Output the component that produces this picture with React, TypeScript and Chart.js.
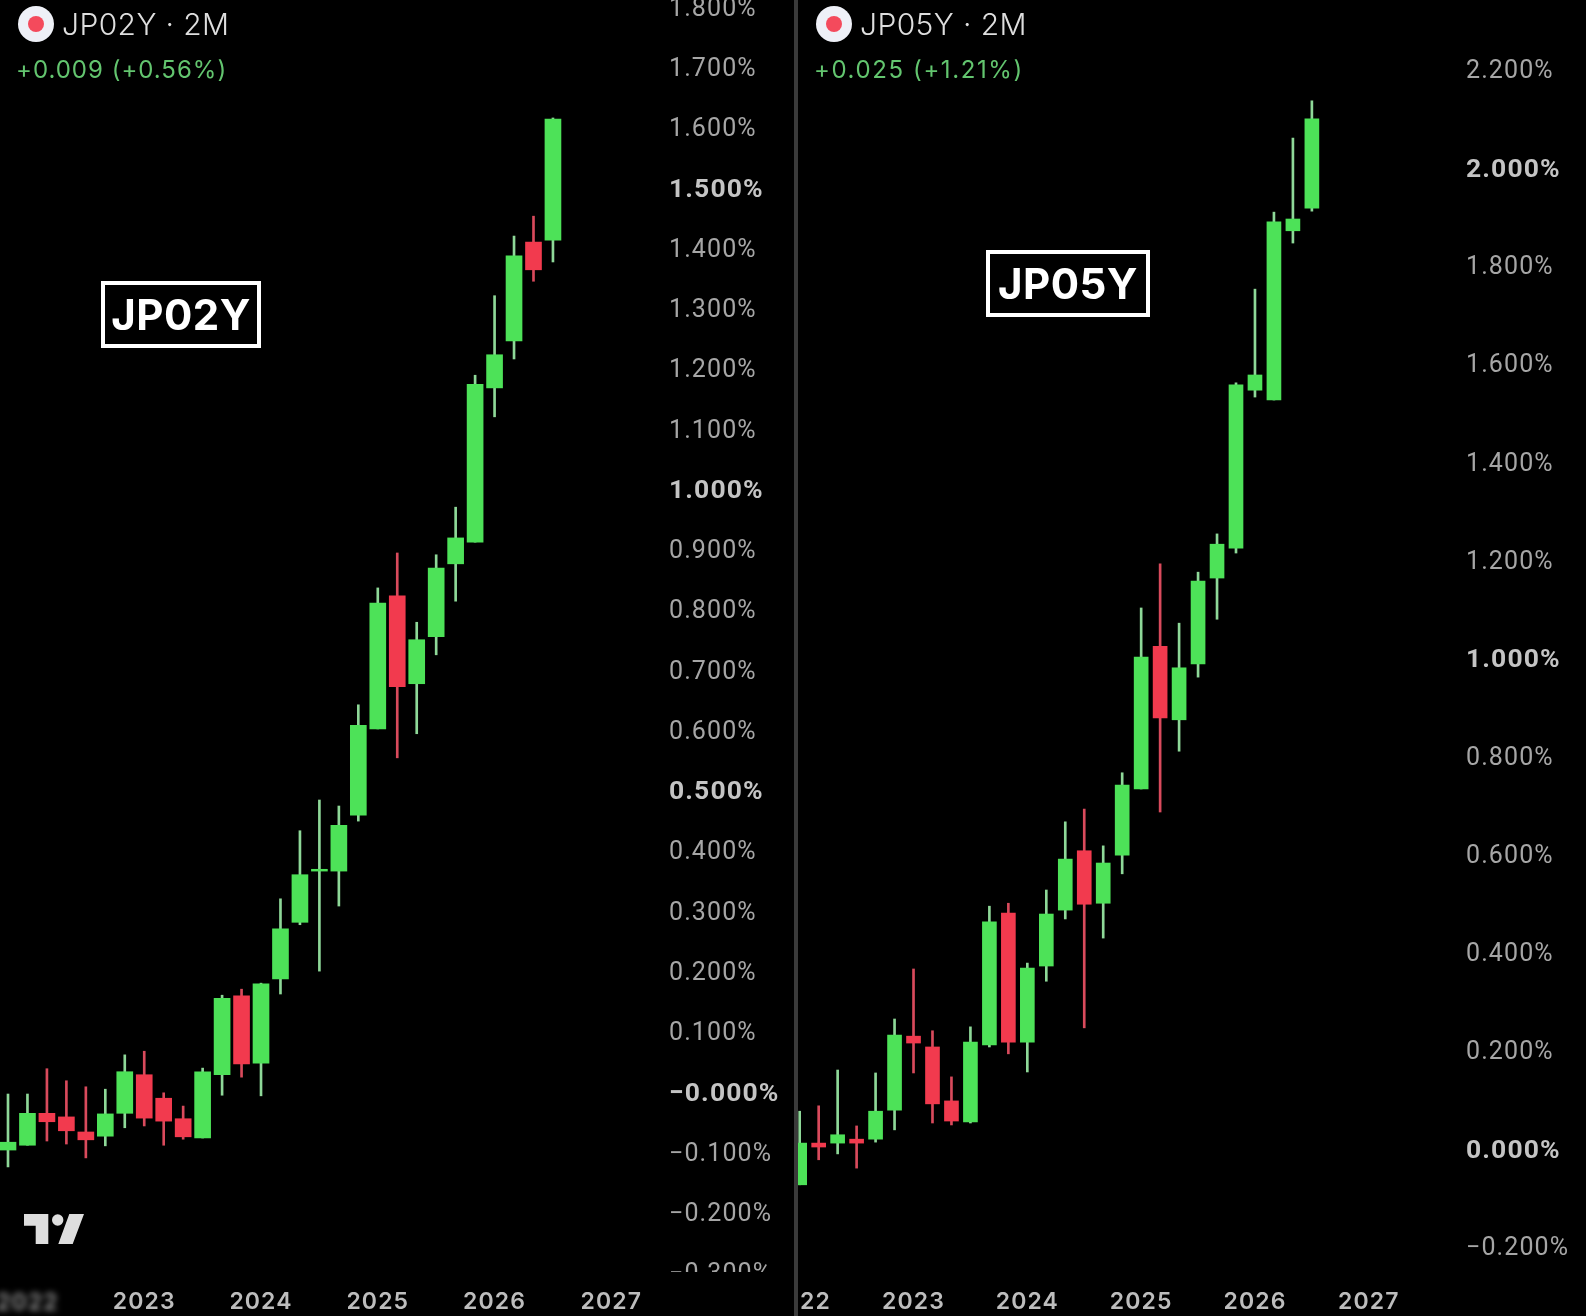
import React, { useEffect, useRef } from "react";
import { Chart, registerables } from "chart.js";

Chart.register(...registerables);

// JP02Y, 2-month bars, first bar Nov 2021
const leftOpen = [-0.098, -0.09, -0.037, -0.043, -0.068, -0.075, -0.037, 0.027, -0.012, -0.046, -0.078, 0.027, 0.158, 0.046, 0.186, 0.28, 0.365, 0.365, 0.458, 0.601, 0.822, 0.676, 0.754, 0.875, 0.911, 1.167, 1.245, 1.409, 1.412];
const leftHigh = [-0.005, -0.005, 0.037, 0.017, 0.007, 0.003, 0.06, 0.066, -0.003, -0.025, 0.038, 0.159, 0.169, 0.179, 0.319, 0.432, 0.483, 0.473, 0.641, 0.835, 0.893, 0.778, 0.89, 0.969, 1.188, 1.32, 1.419, 1.452, 1.615];
const leftLow = [-0.126, -0.09, -0.083, -0.088, -0.111, -0.091, -0.061, -0.058, -0.09, -0.08, -0.078, -0.007, 0.023, -0.008, 0.161, 0.276, 0.199, 0.307, 0.448, 0.601, 0.553, 0.593, 0.724, 0.813, 0.911, 1.119, 1.215, 1.344, 1.376];
const leftClose = [-0.085, -0.037, -0.051, -0.066, -0.081, -0.038, 0.032, -0.045, -0.05, -0.076, 0.032, 0.154, 0.045, 0.178, 0.269, 0.359, 0.368, 0.441, 0.607, 0.81, 0.671, 0.749, 0.868, 0.918, 1.173, 1.222, 1.386, 1.363, 1.613];

// JP05Y, 2-month bars, first bar Jan 2022
const rightOpen = [-0.075, 0.01, 0.01, 0.018, 0.018, 0.077, 0.228, 0.206, 0.096, 0.053, 0.21, 0.479, 0.216, 0.371, 0.485, 0.606, 0.499, 0.597, 0.732, 1.023, 0.873, 0.987, 1.162, 1.223, 1.545, 1.525, 1.87, 1.916];
const rightHigh = [0.075, 0.086, 0.159, 0.045, 0.153, 0.263, 0.365, 0.239, 0.145, 0.247, 0.493, 0.499, 0.377, 0.526, 0.665, 0.691, 0.616, 0.765, 1.101, 1.191, 1.07, 1.174, 1.252, 1.56, 1.751, 1.908, 2.059, 2.135];
const rightLow = [-0.075, -0.024, -0.012, -0.041, 0.012, 0.037, 0.153, 0.051, 0.047, 0.051, 0.206, 0.192, 0.155, 0.34, 0.467, 0.245, 0.428, 0.559, 0.732, 0.685, 0.809, 0.96, 1.078, 1.213, 1.531, 1.525, 1.845, 1.91];
const rightClose = [0.01, 0.002, 0.027, 0.01, 0.075, 0.23, 0.214, 0.09, 0.055, 0.216, 0.461, 0.216, 0.367, 0.477, 0.589, 0.497, 0.581, 0.74, 1.001, 0.877, 0.979, 1.156, 1.231, 1.556, 1.576, 1.888, 1.894, 2.098];

const years = ["2022", "2023", "2024", "2025", "2026", "2027"];
const barsPerYear = 6;

const leftTicks = [1.8, 1.7, 1.6, 1.5, 1.4, 1.3, 1.2, 1.1, 1.0, 0.9, 0.8, 0.7, 0.6, 0.5, 0.4, 0.3, 0.2, 0.1, 0, -0.1, -0.2, -0.3];
const leftTickLabels = ["1.800%", "1.700%", "1.600%", "1.500%", "1.400%", "1.300%", "1.200%", "1.100%", "1.000%", "0.900%", "0.800%", "0.700%", "0.600%", "0.500%", "0.400%", "0.300%", "0.200%", "0.100%", "−0.000%", "−0.100%", "−0.200%", "−0.300%"];
const leftBold = [1.5, 1.0, 0.5, 0];

const rightTicks = [2.2, 2.0, 1.8, 1.6, 1.4, 1.2, 1.0, 0.8, 0.6, 0.4, 0.2, 0, -0.2];
const rightTickLabels = ["2.200%", "2.000%", "1.800%", "1.600%", "1.400%", "1.200%", "1.000%", "0.800%", "0.600%", "0.400%", "0.200%", "0.000%", "−0.200%"];
const rightBold = [2.0, 1.0, 0];

const GREEN = "#4de258";
const RED = "#f23a4e";
const GREEN_WICK = "#8ed898";
const RED_WICK = "#d94a5c";
const FONT = "Inter, 'Noto Sans', sans-serif";
const AXIS_FONT = "Roboto, Inter, sans-serif";

type Pane = {
  open: number[]; high: number[]; low: number[]; close: number[];
  ticks: number[]; tickLabels: string[]; bold: number[];
  firstYearIndex: number;
  xMin: number; xMax: number; yMin: number; yMax: number;
  bodyWidth: number; axisWidth: number; tickPad: number;
  blurFirstYear: boolean;
};

const leftPane: Pane = {
  open: leftOpen, high: leftHigh, low: leftLow, close: leftClose,
  ticks: leftTicks, tickLabels: leftTickLabels, bold: leftBold,
  firstYearIndex: 1,
  xMin: -0.411, xMax: 33.5, yMin: -0.3004, yMax: 1.8108,
  bodyWidth: 16, axisWidth: 134, tickPad: 9, blurFirstYear: true,
};
const rightPane: Pane = {
  open: rightOpen, high: rightHigh, low: rightLow, close: rightClose,
  ticks: rightTicks, tickLabels: rightTickLabels, bold: rightBold,
  firstYearIndex: 0,
  xMin: -0.0896, xMax: 34.65, yMin: -0.2528, yMax: 2.3405,
  bodyWidth: 14, axisWidth: 129, tickPad: 9, blurFirstYear: false,
};

const noPadding = (s: any) => {
  s.paddingLeft = s.paddingRight = s.paddingTop = s.paddingBottom = 0;
  s._margins = { left: 0, right: 0, top: 0, bottom: 0 };
};

function makeChart(canvas: HTMLCanvasElement, p: Pane) {
  const up = p.open.map((o, i) => p.close[i] >= o);
  const yearTicks = years.map((_, k) => p.firstYearIndex + k * barsPerYear);
  return new Chart(canvas, {
    type: "bar",
    data: {
      datasets: [
        {
          data: p.open.map((o, i) => ({ x: i, y: [o, p.close[i]] })),
          backgroundColor: up.map((u) => (u ? GREEN : RED)),
          barThickness: p.bodyWidth,
          grouped: false,
          order: 0,
        },
        {
          data: p.low.map((l, i) => ({ x: i, y: [l, p.high[i]] })),
          backgroundColor: up.map((u) => (u ? GREEN_WICK : RED_WICK)),
          barThickness: 2,
          grouped: false,
          order: 1,
        },
      ] as any,
    },
    options: {
      animation: false,
      responsive: false,
      devicePixelRatio: 1,
      layout: { autoPadding: false, padding: 0 },
      plugins: { legend: { display: false }, tooltip: { enabled: false } },
      scales: {
        x: {
          type: "linear",
          offset: false,
          min: p.xMin,
          max: p.xMax,
          grid: { display: false, drawTicks: false },
          border: { display: false },
          afterBuildTicks: (s: any) => { s.ticks = yearTicks.map((value) => ({ value })); },
          afterFit: (s: any) => { s.height = 44; noPadding(s); },
          ticks: {
            autoSkip: false,
            maxRotation: 0,
            padding: 16,
            color: "#bdbdbd",
            font: { family: FONT, size: 23, weight: "600" },
            callback: (v: any) => {
              const k = (Number(v) - p.firstYearIndex) / barsPerYear;
              if (p.blurFirstYear && k === 0) return "";
              return years[k];
            },
          },
        },
        y: {
          position: "right",
          min: p.yMin,
          max: p.yMax,
          grid: { display: false, drawTicks: false },
          border: { display: false },
          afterBuildTicks: (s: any) => { s.ticks = p.ticks.map((value) => ({ value })); },
          afterFit: (s: any) => { s.width = p.axisWidth; noPadding(s); },
          ticks: {
            autoSkip: false,
            crossAlign: "near",
            padding: p.tickPad,
            labelOffset: 3,
            color: (c: any) => (p.bold.includes(c.tick?.value) ? "#c4c4c4" : "#a6a6a6"),
            font: (c: any) => {
              const b = p.bold.includes(c.tick?.value);
              return { family: AXIS_FONT, size: b ? 26.5 : 25, weight: b ? "700" : "400" };
            },
            callback: (v: any) => p.tickLabels[p.ticks.indexOf(Number(v))],
          },
        },
      },
    } as any,
    plugins: [
      {
        id: "axisClip",
        beforeDraw(chart: any) {
          chart.ctx.letterSpacing = "1.1px";
        },
        afterDraw(chart: any) {
          const { ctx, chartArea, width, height, scales } = chart;
          ctx.save();
          ctx.fillStyle = "#000";
          ctx.fillRect(chartArea.right, chartArea.bottom, width - chartArea.right, height - chartArea.bottom);
          if (p.blurFirstYear) {
            ctx.filter = "blur(3px)";
            ctx.globalAlpha = 0.8;
            ctx.fillStyle = "#bdbdbd";
            ctx.font = `600 23px ${FONT}`;
            ctx.textAlign = "center";
            ctx.textBaseline = "middle";
            ctx.fillText(years[0], scales.x.getPixelForValue(p.firstYearIndex), 1303);
          }
          ctx.restore();
        },
      },
    ],
  });
}

const abs = (s: React.CSSProperties): React.CSSProperties => ({ position: "absolute", whiteSpace: "nowrap", fontFamily: FONT, ...s });

function Header({ x, name, change, spacing }: { x: number; name: string; change: string; spacing: number }) {
  return (
    <>
      <div style={abs({ left: x + 18, top: 6, width: 36, height: 36, borderRadius: "50%", background: "#eef0f7" })} />
      <div style={abs({ left: x + 28, top: 16, width: 16, height: 16, borderRadius: "50%", background: "#f44a5c" })} />
      <div style={abs({ left: x + 62, top: 6, height: 36, lineHeight: "36px", fontSize: 30, letterSpacing: 0.4, fontWeight: 300, color: "#dedede" })}>{name}</div>
      <div style={abs({ left: x + 16, top: 55, height: 30, lineHeight: "30px", fontSize: 24, letterSpacing: spacing, fontWeight: 400, color: "#63c56f" })}>{change}</div>
    </>
  );
}

function Box({ x, y, w, h, text }: { x: number; y: number; w: number; h: number; text: string }) {
  return (
    <div
      style={abs({
        left: x, top: y, width: w, height: h, boxSizing: "border-box",
        border: "4px solid #fff", color: "#fff", fontSize: 42, fontWeight: 700, letterSpacing: 0.5,
        lineHeight: `${h - 8}px`, textAlign: "center",
      })}
    >
      {text}
    </div>
  );
}

export default function App() {
  const leftRef = useRef<HTMLCanvasElement>(null);
  const rightRef = useRef<HTMLCanvasElement>(null);

  useEffect(() => {
    document.body.style.margin = "0";
    document.body.style.background = "#000";
    const a = makeChart(leftRef.current!, leftPane);
    const b = makeChart(rightRef.current!, rightPane);
    return () => { a.destroy(); b.destroy(); };
  }, []);

  return (
    <div style={{ position: "fixed", left: 0, top: 0, width: 1586, height: 1316, background: "#000", overflow: "hidden" }}>
      <canvas ref={leftRef} width={794} height={1316} style={{ position: "absolute", left: 0, top: 0, display: "block" }} />
      <canvas ref={rightRef} width={788} height={1316} style={{ position: "absolute", left: 798, top: 0, display: "block" }} />
      <div style={{ position: "absolute", left: 794, top: 0, width: 4, height: 1316, background: "#3a3a3a" }} />
      <Header x={0} name="JP02Y · 2M" change="+0.009 (+0.56%)" spacing={1.0} />
      <Header x={798} name="JP05Y · 2M" change="+0.025 (+1.21%)" spacing={1.6} />
      <Box x={101} y={281} w={160} h={67} text="JP02Y" />
      <Box x={986} y={250} w={164} h={67} text="JP05Y" />
      <svg width={70} height={40} style={{ position: "absolute", left: 20, top: 1210 }} viewBox="20 1210 70 40">
        <path d="M24 1214H48.3V1244H35.7V1225.7H24Z M69.3 1214H84L72.7 1244H58.3Z" fill="#dedede" />
        <circle cx={57.7} cy={1220} r={5.7} fill="#dedede" />
      </svg>
    </div>
  );
}
